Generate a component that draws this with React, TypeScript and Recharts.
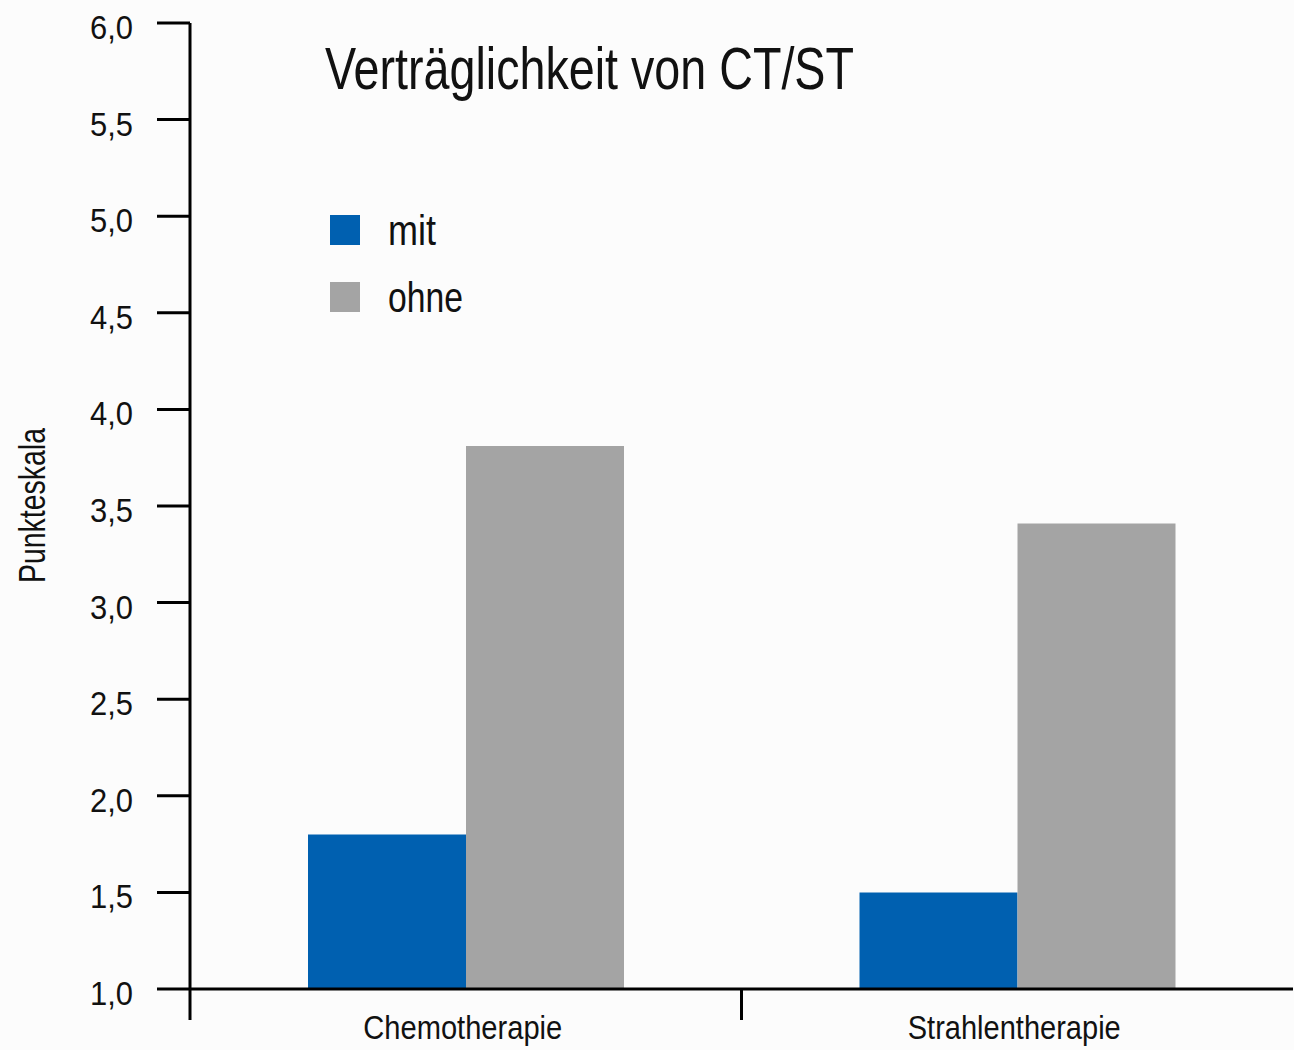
import React from 'react';
import { BarChart, Bar, XAxis, YAxis } from 'recharts';

const categories = ['Chemotherapie', 'Strahlentherapie'];
const mitValues = [1.8, 1.5];
const ohneValues = [3.81, 3.41];
const yTicks = [1, 1.5, 2, 2.5, 3, 3.5, 4, 4.5, 5, 5.5, 6];

const data = categories.map((name, i) => ({ name, mit: mitValues[i], ohne: ohneValues[i] }));

// no condensed font installed, so text gets squeezed with textLength
const FONT = '"Liberation Sans", Arial, sans-serif';
const BLUE = '#0060B0';
const GRAY = '#A4A4A4';
const INK = '#111';

const W = 1294;
const H = 1050;
const LEFT = 190;
const RIGHT_MARGIN = 1;
const BAND = (W - LEFT - RIGHT_MARGIN) / categories.length;

const catWidths: Record<string, number> = { Chemotherapie: 199, Strahlentherapie: 213 };

const YTick = (props: any) => {
    const { y, payload } = props;
    return (
        <text
            x={90}
            y={y + 16}
            fontSize={33.5}
            fontFamily={FONT}
            fill={INK}
            textLength={43}
            lengthAdjust="spacingAndGlyphs"
        >
            {payload.value.toFixed(1).replace('.', ',')}
        </text>
    );
};

const XTick = (props: any) => {
    const { x, y, payload } = props;
    const left = x - BAND / 2;
    const w = catWidths[payload.value] ?? 200;
    return (
        <g>
            <line x1={left} y1={y} x2={left} y2={y + 31} stroke="#000" strokeWidth={3} />
            <text
                x={x - 3 - w / 2}
                y={y + 50}
                fontSize={33.5}
                fontFamily={FONT}
                fill={INK}
                textLength={w}
                lengthAdjust="spacingAndGlyphs"
            >
                {payload.value}
            </text>
        </g>
    );
};

const squeeze = { fontFamily: FONT, fill: INK, lengthAdjust: 'spacingAndGlyphs' } as const;

export default function App() {
    return (
        <div style={{ position: 'absolute', left: 0, top: 0, width: W, height: H, overflow: 'hidden', background: '#fcfcfc' }}>
            <BarChart
                width={W}
                height={H}
                data={data}
                margin={{ top: 23, right: RIGHT_MARGIN, bottom: 0, left: 0 }}
                barGap={0}
                barSize={158}
            >
                <XAxis
                    dataKey="name"
                    axisLine={{ stroke: '#000', strokeWidth: 3 }}
                    tickLine={false}
                    tickSize={0}
                    tickMargin={0}
                    tick={<XTick />}
                    height={61}
                    interval={0}
                />
                <YAxis
                    type="number"
                    domain={[1, 6]}
                    ticks={yTicks}
                    allowDataOverflow
                    width={LEFT}
                    axisLine={{ stroke: '#000', strokeWidth: 3 }}
                    tickLine={{ stroke: '#000', strokeWidth: 3 }}
                    tickSize={33}
                    tick={<YTick />}
                />
                <Bar dataKey="mit" fill={BLUE} isAnimationActive={false} />
                <Bar dataKey="ohne" fill={GRAY} isAnimationActive={false} />
            </BarChart>

            <svg width={W} height={H} style={{ position: 'absolute', left: 0, top: 0, pointerEvents: 'none' }}>
                <text x={325} y={89} fontSize={59} textLength={529} {...squeeze}>
                    Verträglichkeit von CT/ST
                </text>
                <text
                    x={45}
                    y={505.5}
                    transform="rotate(-90, 45, 505.5)"
                    textAnchor="middle"
                    fontSize={37}
                    textLength={155}
                    {...squeeze}
                >
                    Punkteskala
                </text>

                <rect x={330} y={215} width={30} height={30} fill={BLUE} />
                <text x={388} y={245} fontSize={42} textLength={48} {...squeeze}>mit</text>
                <rect x={330} y={282} width={30} height={30} fill={GRAY} />
                <text x={388} y={312} fontSize={42} textLength={75} {...squeeze}>ohne</text>
            </svg>
        </div>
    );
}
